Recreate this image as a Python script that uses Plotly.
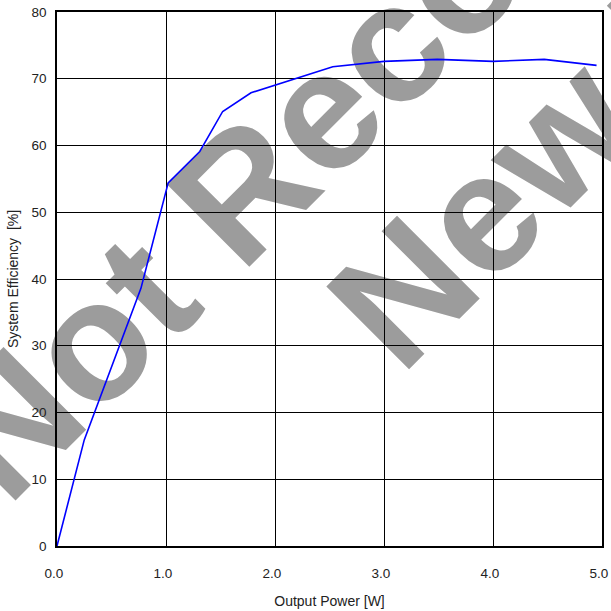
import plotly.graph_objects as go

# Data
output_power_w = [0.0, 0.25, 0.77, 1.02, 1.31, 1.52, 1.78, 2.53, 3.0, 3.49, 4.0, 4.47, 4.95]
system_efficiency_pct = [0.0, 15.9, 38.6, 54.4, 59.1, 65.1, 67.9, 71.8, 72.6, 72.9, 72.6, 72.9, 72.0]

x_ticks = [0, 1, 2, 3, 4, 5]
x_tick_labels = ["0.0", "1.0", "2.0", "3.0", "4.0", "5.0"]
y_ticks = [0, 10, 20, 30, 40, 50, 60, 70, 80]

watermark_lines = ["Not Recommended for", "New Designs"]

W = H = 611
ML, MR, MT, MB = 57, 9, 12, 65

fig = go.Figure()
fig.add_trace(go.Scatter(
    x=output_power_w, y=system_efficiency_pct, mode="lines",
    line=dict(color="#0000ff", width=1.6), showlegend=False, hoverinfo="skip",
))

# watermark: positions in page pixels -> paper coords
pw = W - ML - MR
ph = H - MT - MB
def to_paper(px, py):
    return (px - ML) / pw, (H - MB - py) / ph

wm_centers_px = [(599, -189), (722, -50)]
for text, (cx, cy) in zip(watermark_lines, wm_centers_px):
    xp, yp = to_paper(cx, cy)
    fig.add_shape(
        type="rect", xref="paper", yref="paper",
        x0=xp - 0.001, x1=xp + 0.001, y0=yp - 0.001, y1=yp + 0.001,
        line=dict(width=0), fillcolor="rgba(0,0,0,0)", layer="below",
        label=dict(text="<b>" + text + "</b>", textangle=-45, textposition="middle center",
                   font=dict(family="Liberation Sans, Arial, sans-serif", size=170, color="#9c9c9c")),
    )

axis_common = dict(
    showgrid=True, gridcolor="#000000", gridwidth=1.4,
    showline=True, linecolor="#000000", linewidth=1.6, mirror=True,
    zeroline=False, ticks="", automargin=False,
    tickfont=dict(family="Liberation Sans, Arial, sans-serif", size=13.5, color="#222222"),
)

fig.update_xaxes(
    range=[0, 5], tickvals=x_ticks, ticktext=x_tick_labels,
    ticklabelstandoff=14, ticklabelshift=-3, ticklabeloverflow="allow",
    title=dict(text="Output Power [W]", standoff=16,
               font=dict(family="Liberation Sans, Arial, sans-serif", size=14, color="#222222")),
    **axis_common,
)
fig.update_yaxes(
    range=[0, 80], tickvals=y_ticks,
    ticklabelstandoff=6,
    title=dict(text="System Efficiency  [%]", standoff=10,
               font=dict(family="Liberation Sans, Arial, sans-serif", size=14, color="#222222")),
    **axis_common,
)

fig.update_layout(
    width=W, height=H,
    margin=dict(l=ML, r=MR, t=MT, b=MB, pad=0),
    paper_bgcolor="white", plot_bgcolor="white",
    showlegend=False,
)

fig.write_html("out.html")
